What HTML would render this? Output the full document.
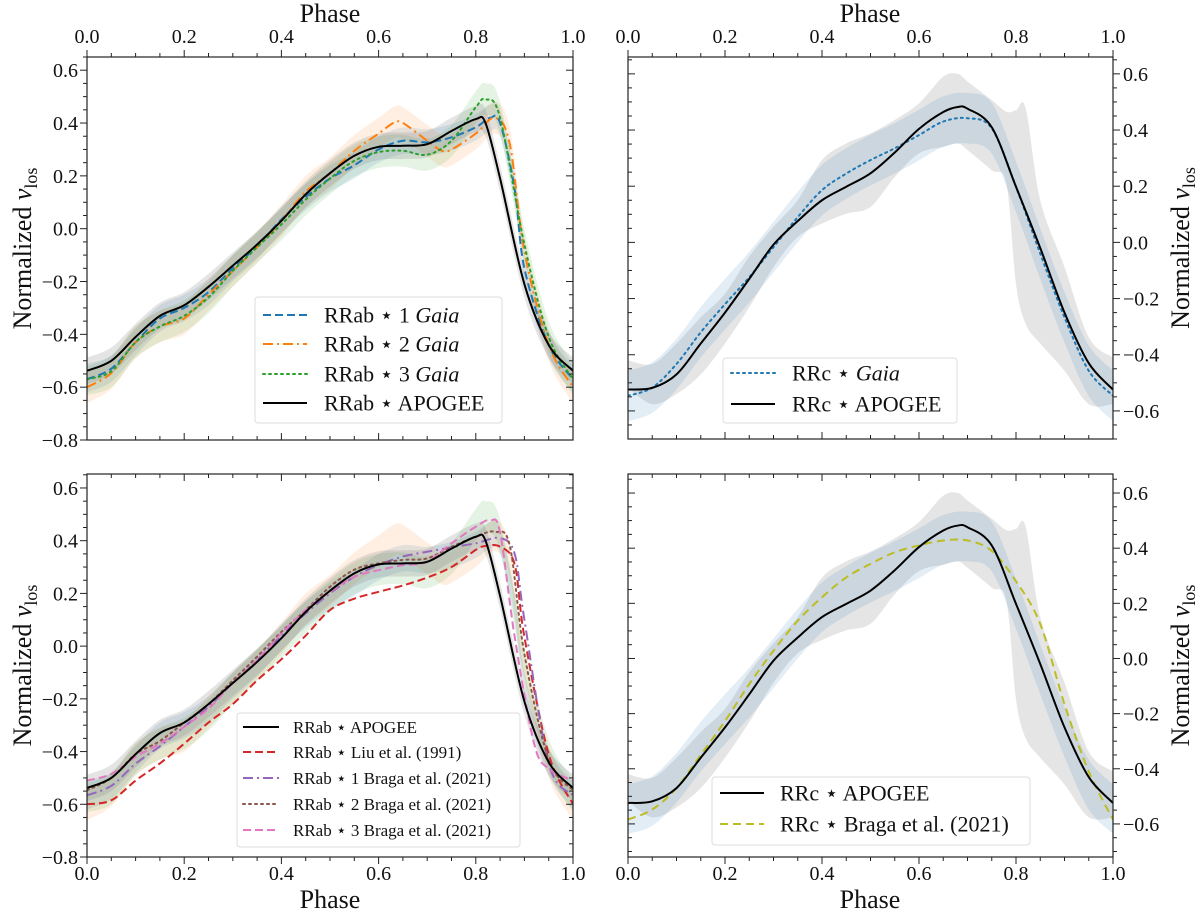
<!DOCTYPE html>
<html><head><meta charset="utf-8"><title>Normalized line-of-sight velocity curves</title>
<style>
html,body{margin:0;padding:0;background:#fff;}
svg text{font-family:"Liberation Serif","DejaVu Serif",serif;fill:#111;}
</style></head>
<body>
<svg id="fig" width="1200" height="914" viewBox="0 0 1200 914" xmlns="http://www.w3.org/2000/svg"></svg>
<script>
// ---------- data ----------
const rrabPh = [0,0.05,0.1,0.15,0.2,0.25,0.3,0.35,0.4,0.45,0.5,0.55,0.6,0.65,0.7,0.75,0.8,0.82,0.85,0.9,0.95,1.0];
const rrabApogee = [-0.538,-0.50,-0.41,-0.33,-0.29,-0.22,-0.14,-0.06,0.03,0.13,0.21,0.276,0.31,0.314,0.32,0.37,0.415,0.40,0.19,-0.21,-0.44,-0.538];
const gaia1Ph = [0,0.05,0.1,0.15,0.2,0.25,0.3,0.35,0.4,0.45,0.5,0.55,0.6,0.65,0.7,0.75,0.8,0.83,0.85,0.88,0.9,0.95,1.0];
const gaia1 = [-0.57,-0.53,-0.43,-0.34,-0.30,-0.24,-0.15,-0.066,0.035,0.12,0.19,0.24,0.30,0.333,0.327,0.346,0.384,0.42,0.40,0.15,-0.15,-0.44,-0.57];
const gaia2Ph = [0,0.05,0.1,0.15,0.2,0.25,0.3,0.35,0.4,0.45,0.5,0.55,0.6,0.63,0.65,0.7,0.73,0.75,0.8,0.84,0.87,0.9,0.95,1.0];
const gaia2 = [-0.60,-0.547,-0.43,-0.37,-0.34,-0.25,-0.16,-0.07,0.03,0.14,0.21,0.295,0.36,0.40,0.40,0.333,0.295,0.30,0.36,0.42,0.32,-0.085,-0.44,-0.60];
const gaia3Ph = [0,0.05,0.1,0.15,0.2,0.25,0.3,0.35,0.4,0.45,0.5,0.55,0.6,0.65,0.7,0.75,0.8,0.82,0.85,0.9,0.95,1.0];
const gaia3 = [-0.57,-0.54,-0.43,-0.37,-0.33,-0.26,-0.16,-0.07,0.016,0.11,0.19,0.257,0.29,0.295,0.28,0.333,0.46,0.49,0.42,-0.06,-0.41,-0.57];
const liuPh = [0,0.05,0.1,0.15,0.2,0.25,0.3,0.35,0.4,0.45,0.5,0.55,0.6,0.65,0.7,0.75,0.8,0.82,0.85,0.88,0.9,0.95,1.0];
const liu = [-0.60,-0.585,-0.51,-0.445,-0.37,-0.29,-0.22,-0.13,-0.05,0.04,0.137,0.18,0.206,0.23,0.26,0.30,0.365,0.38,0.377,0.31,0.035,-0.41,-0.60];
const braga1Ph = [0,0.05,0.1,0.15,0.2,0.25,0.3,0.35,0.4,0.45,0.5,0.55,0.6,0.65,0.7,0.75,0.8,0.85,0.88,0.9,0.95,1.0];
const braga1 = [-0.566,-0.53,-0.446,-0.38,-0.306,-0.23,-0.14,-0.053,0.04,0.124,0.2,0.263,0.308,0.34,0.358,0.375,0.39,0.41,0.35,0.1,-0.445,-0.566];
const braga2Ph = [0,0.05,0.1,0.15,0.2,0.25,0.3,0.35,0.4,0.45,0.5,0.55,0.6,0.65,0.7,0.75,0.8,0.84,0.87,0.9,0.95,1.0];
const braga2 = [-0.547,-0.50,-0.41,-0.36,-0.29,-0.22,-0.13,-0.04,0.054,0.137,0.225,0.29,0.314,0.327,0.333,0.377,0.415,0.434,0.38,-0.03,-0.43,-0.547];
const braga3Ph = [0,0.05,0.1,0.15,0.2,0.25,0.3,0.35,0.4,0.45,0.5,0.55,0.6,0.65,0.7,0.75,0.8,0.83,0.85,0.88,0.92,0.95,1.0];
const braga3 = [-0.51,-0.485,-0.42,-0.37,-0.306,-0.237,-0.14,-0.053,0.048,0.137,0.206,0.263,0.288,0.307,0.32,0.39,0.453,0.478,0.43,0.035,-0.37,-0.465,-0.51];
const rrcPh = [0,0.05,0.1,0.15,0.2,0.25,0.3,0.35,0.4,0.45,0.5,0.55,0.6,0.65,0.68,0.7,0.75,0.8,0.85,0.9,0.95,1.0];
const rrcApogee = [-0.524,-0.518,-0.47,-0.36,-0.25,-0.13,-0.008,0.076,0.15,0.198,0.246,0.32,0.404,0.464,0.482,0.476,0.41,0.198,-0.02,-0.25,-0.43,-0.524];
const rrcGaiaPh = [0,0.05,0.1,0.15,0.2,0.25,0.3,0.35,0.4,0.45,0.5,0.55,0.6,0.65,0.7,0.75,0.8,0.85,0.9,0.95,1.0];
const rrcGaia = [-0.546,-0.517,-0.433,-0.32,-0.22,-0.124,-0.017,0.09,0.186,0.245,0.293,0.335,0.382,0.43,0.442,0.406,0.198,-0.04,-0.267,-0.457,-0.546];
const rrcBragaPh = [0,0.05,0.1,0.15,0.2,0.25,0.3,0.35,0.4,0.45,0.5,0.55,0.6,0.65,0.7,0.75,0.8,0.85,0.9,0.95,1.0];
const rrcBraga = [-0.584,-0.548,-0.47,-0.35,-0.227,-0.093,0.028,0.137,0.222,0.294,0.343,0.385,0.41,0.428,0.428,0.39,0.28,0.125,-0.166,-0.41,-0.584];
const rrcBandPh = [0,0.05,0.1,0.15,0.2,0.25,0.3,0.35,0.4,0.45,0.5,0.55,0.6,0.65,0.68,0.7,0.75,0.78,0.8,0.82,0.85,0.9,0.95,1.0];
const rrcBandHi = [-0.42,-0.433,-0.36,-0.267,-0.183,-0.05,0.055,0.15,0.293,0.352,0.388,0.436,0.495,0.59,0.6,0.573,0.507,0.465,0.47,0.477,0.15,-0.088,-0.338,-0.41];
const rrcBandLo = [-0.517,-0.576,-0.54,-0.47,-0.36,-0.231,-0.088,0.019,0.067,0.102,0.126,0.233,0.317,0.34,0.352,0.329,0.257,0.21,-0.148,-0.29,-0.36,-0.457,-0.576,-0.576];
const xTicks = [0,0.2,0.4,0.6,0.8,1.0];
const xTickLabels = ["0.0","0.2","0.4","0.6","0.8","1.0"];
const yTicksLeft = [-0.8,-0.6,-0.4,-0.2,0,0.2,0.4,0.6];
const yTickLabelsLeft = ["\u22120.8","\u22120.6","\u22120.4","\u22120.2","0.0","0.2","0.4","0.6"];
const yTicksRight = [-0.6,-0.4,-0.2,0,0.2,0.4,0.6];
const yTickLabelsRight = ["\u22120.6","\u22120.4","\u22120.2","0.0","0.2","0.4","0.6"];

// ---------- helpers ----------
const NS="http://www.w3.org/2000/svg";
const svg=document.getElementById('fig');
function mk(tag,attrs,parent){const e=document.createElementNS(NS,tag);for(const k in attrs)e.setAttribute(k,attrs[k]);(parent||svg).appendChild(e);return e;}
function axis(x0,x1,y0,y1,ymin,ymax){return{x0,x1,y0,y1,ymin,ymax,X:p=>x0+(x1-x0)*p,Y:v=>y0+(ymax-v)/(ymax-ymin)*(y1-y0)};}
function smooth(pts){
  let d=`M${pts[0][0].toFixed(2)},${pts[0][1].toFixed(2)}`;
  for(let i=0;i<pts.length-1;i++){
    const p0=pts[Math.max(0,i-1)],p1=pts[i],p2=pts[i+1],p3=pts[Math.min(pts.length-1,i+2)];
    const c1=[p1[0]+(p2[0]-p0[0])/6,p1[1]+(p2[1]-p0[1])/6];
    const c2=[p2[0]-(p3[0]-p1[0])/6,p2[1]-(p3[1]-p1[1])/6];
    d+=`C${c1[0].toFixed(2)},${c1[1].toFixed(2)} ${c2[0].toFixed(2)},${c2[1].toFixed(2)} ${p2[0].toFixed(2)},${p2[1].toFixed(2)}`;
  }
  return d;
}
function linePath(ax,ph,vals){return smooth(ph.map((p,i)=>[ax.X(p),ax.Y(vals[i])]));}
function bandPath(ax,ph,hi,lo){
  const top=ph.map((p,i)=>[ax.X(p),ax.Y(hi[i])]);
  const bot=ph.map((p,i)=>[ax.X(p),ax.Y(lo[i])]).reverse();
  return smooth(top)+' L'+smooth(bot).slice(1)+' Z';
}
function clipFor(ax,id){const cp=mk('clipPath',{id});mk('rect',{x:ax.x0,y:ax.y0,width:ax.x1-ax.x0,height:ax.y1-ax.y0},cp);return `url(#${id})`;}

function frame(ax,g,opt){
  mk('rect',{x:ax.x0,y:ax.y0,width:ax.x1-ax.x0,height:ax.y1-ax.y0,fill:'none',stroke:'#222','stroke-width':1.2},g);
  // x ticks
  for(let k=0;k<=20;k++){
    const p=k/20,x=ax.X(p),maj=(k%4===0),L=maj?7:4;
    const topOut=opt.xTop, botOut=opt.xBottom;
    mk('line',{x1:x,x2:x,y1:ax.y0,y2:topOut?ax.y0-L:ax.y0+L,stroke:'#222','stroke-width':1},g);
    mk('line',{x1:x,x2:x,y1:ax.y1,y2:botOut?ax.y1+L:ax.y1-L,stroke:'#222','stroke-width':1},g);
  }
  xTicks.forEach((t,i)=>{
    if(opt.xTop){const e=mk('text',{x:ax.X(t),y:ax.y0-14,'font-size':20,'text-anchor':'middle'},g);e.textContent=xTickLabels[i];}
    if(opt.xBottom){const e=mk('text',{x:ax.X(t),y:ax.y1+23,'font-size':20,'text-anchor':'middle'},g);e.textContent=xTickLabels[i];}
  });
  // y ticks
  const yt=opt.right?yTicksRight:yTicksLeft, yl=opt.right?yTickLabelsRight:yTickLabelsLeft;
  for(let v=Math.ceil(ax.ymin*20);v<=Math.floor(ax.ymax*20);v++){
    const y=ax.Y(v/20),maj=(Math.abs(v)%4===0),L=maj?7:4;
    mk('line',{x1:ax.x0,x2:opt.right?ax.x0+L:ax.x0-L,y1:y,y2:y,stroke:'#222','stroke-width':1},g);
    mk('line',{x1:ax.x1,x2:opt.right?ax.x1+L:ax.x1-L,y1:y,y2:y,stroke:'#222','stroke-width':1},g);
  }
  yt.forEach((t,i)=>{
    const e=opt.right?mk('text',{x:ax.x1+10,y:ax.Y(t)+7,'font-size':20,'text-anchor':'start'},g):mk('text',{x:ax.x0-9,y:ax.Y(t)+7,'font-size':20,'text-anchor':'end'},g);
    e.textContent=yl[i];
  });
  const cy=(ax.y0+ax.y1)/2, lx=opt.right?1180:22;
  const yl2=mk('text',{x:lx,y:cy+9,'font-size':26,'text-anchor':'middle',transform:`rotate(-90 ${lx} ${cy})`},g);
  
  
  yl2.innerHTML='Normalized <tspan font-style="italic">v</tspan><tspan font-size="18" dy="6">los</tspan>';
}
function series(ax,g,ph,vals,color,dash,name,clip,w){
  const p=mk('path',{d:linePath(ax,ph,vals),fill:'none',stroke:color,'stroke-width':w||2,'stroke-dasharray':dash||'none','stroke-linecap':dash==='2,4'?'round':'butt','clip-path':clip},g);
  
  
}
function band(ax,g,ph,vals,spread,color,op,name,clip){
  const hi=vals.map(v=>v+spread), lo=vals.map(v=>v-spread);
  const p=mk('path',{d:bandPath(ax,ph,hi,lo),fill:color,'fill-opacity':op,stroke:'none','clip-path':clip},g);
  
  
}
function legend(g,x,y,w,h,entries,fs,lineX0,lineX1,textX){
  const lg=mk('g',{},g);
  
  
  mk('rect',{x,y,width:w,height:h,rx:3,fill:'#fff','fill-opacity':0.85,stroke:'#ddd','stroke-width':1},lg);
  entries.forEach(en=>{
    const eg=mk('g',{},lg);
    
    
    mk('line',{x1:lineX0,x2:lineX1,y1:en.y,y2:en.y,stroke:en.c,'stroke-width':2,'stroke-dasharray':en.d||'none','stroke-linecap':en.d==='2,4'?'round':'butt'},eg);
    const t=mk('text',{x:textX,y:en.y+fs*0.35,'font-size':fs},eg);
    t.innerHTML=en.t;
  });
}
const STAR='\u22c6';

// ---------- panels ----------
const axTL=axis(87,573,57,440,-0.8,0.65);
const axBL=axis(87,573,474,857,-0.8,0.653);
const axTR=axis(628,1113,57,439,-0.70,0.66);
const axBR=axis(628,1113,474,857,-0.72,0.669);

// top-left
{
  const g=mk('g',{});
  const c=clipFor(axTL,'cTL');
  band(axTL,g,gaia1Ph,gaia1,0.05,'#1f77b4',0.13,'band-gaia-1',c);
  band(axTL,g,gaia2Ph,gaia2,0.06,'#ff7f0e',0.12,'band-gaia-2',c);
  band(axTL,g,gaia3Ph,gaia3,0.06,'#2ca02c',0.12,'band-gaia-3',c);
  band(axTL,g,rrabPh,rrabApogee,0.05,'#777',0.2,'band-apogee',c);
  series(axTL,g,gaia1Ph,gaia1,'#1f77b4','8,4','line-rrab-1-gaia',c);
  series(axTL,g,gaia2Ph,gaia2,'#ff7f0e','10,4,2,4','line-rrab-2-gaia',c);
  series(axTL,g,gaia3Ph,gaia3,'#2ca02c','2,4','line-rrab-3-gaia',c);
  series(axTL,g,rrabPh,rrabApogee,'#000',null,'line-rrab-apogee',c);
  frame(axTL,g,{xTop:true,xBottom:false,right:false});
  legend(g,255,297,247,126,[
    {y:315,c:'#1f77b4',d:'8,4',t:'RRab '+STAR+' 1 <tspan font-style="italic">Gaia</tspan>'},
    {y:344,c:'#ff7f0e',d:'10,4,2,4',t:'RRab '+STAR+' 2 <tspan font-style="italic">Gaia</tspan>'},
    {y:374,c:'#2ca02c',d:'2,4',t:'RRab '+STAR+' 3 <tspan font-style="italic">Gaia</tspan>'},
    {y:403,c:'#000',t:'RRab '+STAR+' APOGEE'}],22,263,307,324);
}
// bottom-left
{
  const g=mk('g',{});
  const c=clipFor(axBL,'cBL');
  band(axBL,g,gaia1Ph,gaia1,0.05,'#1f77b4',0.13,'band-gaia-1',c);
  band(axBL,g,gaia2Ph,gaia2,0.06,'#ff7f0e',0.12,'band-gaia-2',c);
  band(axBL,g,gaia3Ph,gaia3,0.06,'#2ca02c',0.12,'band-gaia-3',c);
  band(axBL,g,rrabPh,rrabApogee,0.05,'#777',0.2,'band-apogee',c);
  series(axBL,g,liuPh,liu,'#d62728','8,4','line-rrab-liu-1991',c);
  series(axBL,g,braga1Ph,braga1,'#9467bd','10,4,2,4','line-rrab-1-braga',c);
  series(axBL,g,braga2Ph,braga2,'#8c564b','2,4','line-rrab-2-braga',c);
  series(axBL,g,braga3Ph,braga3,'#e377c2','8,4','line-rrab-3-braga',c);
  series(axBL,g,rrabPh,rrabApogee,'#000',null,'line-rrab-apogee',c);
  frame(axBL,g,{xTop:false,xBottom:true,right:false});
  legend(g,237,713,283,134,[
    {y:727,c:'#000',t:'RRab '+STAR+' APOGEE'},
    {y:752,c:'#d62728',d:'8,4',t:'RRab '+STAR+' Liu et al. (1991)'},
    {y:778,c:'#9467bd',d:'10,4,2,4',t:'RRab '+STAR+' 1 Braga et al. (2021)'},
    {y:804,c:'#8c564b',d:'2,4',t:'RRab '+STAR+' 2 Braga et al. (2021)'},
    {y:830,c:'#e377c2',d:'8,4',t:'RRab '+STAR+' 3 Braga et al. (2021)'}],17,243,279,293);
}
// top-right
{
  const g=mk('g',{});
  const c=clipFor(axTR,'cTR');
  const gb=mk('path',{d:bandPath(axTR,rrcBandPh,rrcBandHi,rrcBandLo),fill:'#888','fill-opacity':0.22,'clip-path':c},g);
  
  band(axTR,g,rrcGaiaPh,rrcGaia,0.09,'#1f77b4',0.13,'band-rrc-gaia',c);
  series(axTR,g,rrcGaiaPh,rrcGaia,'#1f77b4','2,4','line-rrc-gaia',c);
  series(axTR,g,rrcPh,rrcApogee,'#000',null,'line-rrc-apogee',c);
  frame(axTR,g,{xTop:true,xBottom:false,right:true});
  legend(g,723,358,234,65,[
    {y:373,c:'#1f77b4',d:'2,4',t:'RRc '+STAR+' <tspan font-style="italic">Gaia</tspan>'},
    {y:404,c:'#000',t:'RRc '+STAR+' APOGEE'}],22,731,775,792);
}
// bottom-right
{
  const g=mk('g',{});
  const c=clipFor(axBR,'cBR');
  const gb=mk('path',{d:bandPath(axBR,rrcBandPh,rrcBandHi,rrcBandLo),fill:'#888','fill-opacity':0.22,'clip-path':c},g);
  
  band(axBR,g,rrcGaiaPh,rrcGaia,0.09,'#1f77b4',0.13,'band-rrc-gaia',c);
  series(axBR,g,rrcBragaPh,rrcBraga,'#bcbd22','8,5','line-rrc-braga',c);
  series(axBR,g,rrcPh,rrcApogee,'#000',null,'line-rrc-apogee',c);
  frame(axBR,g,{xTop:false,xBottom:true,right:true});
  legend(g,712,777,318,68,[
    {y:793,c:'#000',t:'RRc '+STAR+' APOGEE'},
    {y:824,c:'#bcbd22',d:'8,5',t:'RRc '+STAR+' Braga et al. (2021)'}],22,720,764,780);
}
// axis titles "Phase"
[[330,22],[870,22],[330,908],[870,908]].forEach(([x,y])=>{
  const t=mk('text',{x,y,'font-size':26,'text-anchor':'middle'});
  
  
  t.textContent='Phase';
});
</script>
</body></html>
